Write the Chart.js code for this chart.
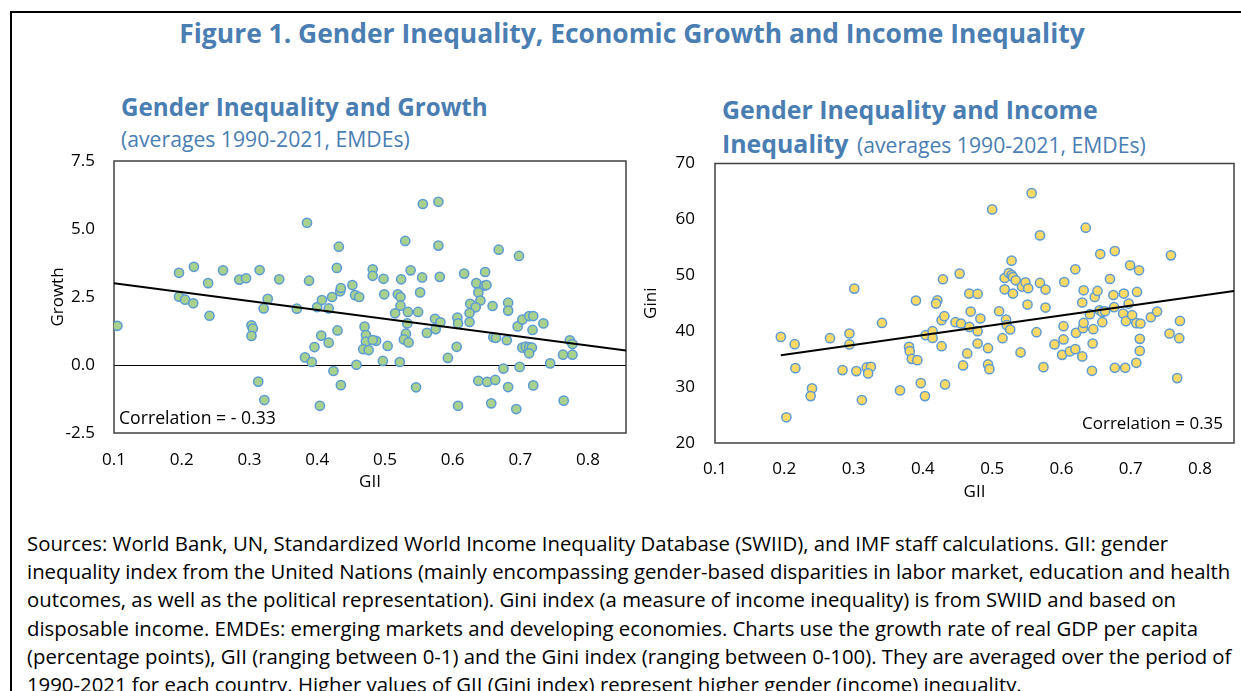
<!DOCTYPE html>
<html>
<head>
<meta charset="utf-8">
<title>Gender Inequality, Economic Growth and Income Inequality</title>
<script src="https://cdn.jsdelivr.net/npm/chart.js@4.4.0/dist/chart.umd.min.js"></script>
<style>
  body {
    margin: 0;
    width: 1241px;
    height: 691px;
    overflow: hidden;
    background: #fff;
    position: relative;
    font-family: "Open Sans", sans-serif;
  }
  .frame {
    position: absolute;
    left: 10px;
    top: 11px;
    width: 1300px;
    height: 720px;
    border-top: 2px solid #000;
    border-left: 2px solid #000;
    box-sizing: border-box;
  }
  .t { position: absolute; white-space: nowrap; line-height: 1; color: #4a7eb3; }
  .b { font-weight: 700; }
  .txt { position: absolute; white-space: nowrap; line-height: 1; color: #000; }
  .chart { position: absolute; }
</style>
</head>
<body>
<div class="frame"></div>

<div class="t b" id="title">Figure 1. Gender Inequality, Economic Growth and Income Inequality</div>

<div class="t b" id="leftHead">Gender Inequality and Growth</div>
<div class="t" id="leftSub">(averages 1990-2021, EMDEs)</div>

<div class="t b" id="rightHead1">Gender Inequality and Income</div>
<div class="t b" id="rightHead2">Inequality</div>
<div class="t" id="rightSub">(averages 1990-2021, EMDEs)</div>

<div class="chart" style="left:0px; top:150px; width:640px; height:350px;">
  <canvas id="growthChart"></canvas>
</div>
<div class="chart" style="left:640px; top:150px; width:601px; height:360px;">
  <canvas id="giniChart"></canvas>
</div>

<div class="txt" id="corrLeft">Correlation = - 0.33</div>
<div class="txt" id="corrRight">Correlation = 0.35</div>

<div class="txt note">Sources: World Bank, UN, Standardized World Income Inequality Database (SWIID), and IMF staff calculations. GII: gender</div>
<div class="txt note">inequality index from the United Nations (mainly encompassing gender-based disparities in labor market, education and health</div>
<div class="txt note">outcomes, as well as the political representation). Gini index (a measure of income inequality) is from SWIID and based on</div>
<div class="txt note">disposable income. EMDEs: emerging markets and developing economies. Charts use the growth rate of real GDP per capita</div>
<div class="txt note">(percentage points), GII (ranging between 0-1) and the Gini index (ranging between 0-100). They are averaged over the period of</div>
<div class="txt note">1990-2021 for each country. Higher values of GII (Gini index) represent higher gender (income) inequality.</div>

<script>
// left panel: GII vs growth of real GDP per capita
const growthGII = [
  0.105, 0.196, 0.218, 0.196, 0.205, 0.217, 0.239, 0.241, 0.261, 0.285,
  0.295, 0.315, 0.303, 0.305, 0.303, 0.313, 0.322, 0.327, 0.321, 0.344,
  0.370, 0.385, 0.388, 0.382, 0.392, 0.396, 0.406, 0.417, 0.400, 0.407,
  0.417, 0.422, 0.432, 0.429, 0.434, 0.435, 0.430, 0.424, 0.435, 0.404,
  0.452, 0.456, 0.462, 0.458, 0.470, 0.472, 0.472, 0.468, 0.476, 0.482,
  0.482, 0.498, 0.499, 0.487, 0.482, 0.504, 0.497, 0.522, 0.530, 0.538,
  0.524, 0.519, 0.523, 0.523, 0.515, 0.534, 0.533, 0.549, 0.531, 0.528,
  0.535, 0.546, 0.556, 0.579, 0.579, 0.555, 0.581, 0.552, 0.574, 0.562,
  0.575, 0.582, 0.607, 0.608, 0.606, 0.593, 0.608, 0.617, 0.635, 0.648,
  0.647, 0.650, 0.638, 0.641, 0.626, 0.634, 0.625, 0.625, 0.659, 0.660,
  0.664, 0.680, 0.668, 0.698, 0.682, 0.682, 0.696, 0.703, 0.713, 0.719,
  0.718, 0.734, 0.703, 0.708, 0.713, 0.717, 0.713, 0.675, 0.699, 0.638,
  0.651, 0.663, 0.682, 0.719, 0.657, 0.694, 0.744, 0.763, 0.777, 0.773,
  0.777, 0.764
];
const growthVals = [
  1.44, 3.39, 3.61, 2.51, 2.40, 2.27, 3.01, 1.81, 3.48, 3.14,
  3.19, 3.49, 1.46, 1.34, 1.07, -0.61, -1.29, 2.43, 2.08, 3.15,
  2.07, 5.23, 3.10, 0.28, 0.11, 0.66, 1.08, 0.82, 2.13, 2.39,
  2.08, 2.50, 4.35, 3.57, 2.71, 2.83, 1.27, -0.22, -0.74, -1.50,
  2.94, 2.57, 2.50, 0.01, 1.41, 1.10, 0.86, 0.58, 0.55, 3.52,
  3.28, 3.17, 2.60, 0.89, 0.92, 0.70, 0.15, 0.11, 4.56, 3.48,
  3.15, 2.60, 2.50, 2.18, 1.90, 1.95, 1.53, 1.95, 1.15, 0.94,
  0.83, -0.82, 5.92, 6.00, 4.39, 3.22, 3.24, 2.67, 1.70, 1.18,
  1.32, 1.57, 1.74, 1.53, 0.67, 0.26, -1.50, 3.36, 3.01, 3.42,
  2.92, 2.94, 2.67, 2.37, 2.25, 2.12, 1.91, 1.58, 2.17, 1.02,
  1.00, 0.91, 4.24, 4.01, 2.29, 2.00, 1.42, 1.67, 1.80, 1.80,
  1.29, 1.53, 0.64, 0.68, 0.66, 0.64, 0.43, -0.13, -0.07, -0.58,
  -0.62, -0.55, -0.81, -0.75, -1.41, -1.62, 0.06, 0.38, 0.38, 0.91,
  0.77, -1.31
];
const growthTrendGII = [0.1, 0.856];
const growthTrendVals = [3.01, 0.53];

// right panel: GII vs Gini index
const giniGII = [
  0.195, 0.215, 0.216, 0.203, 0.240, 0.238, 0.266, 0.294, 0.294, 0.301,
  0.284, 0.304, 0.319, 0.325, 0.321, 0.312, 0.341, 0.367, 0.380, 0.381,
  0.384, 0.392, 0.390, 0.397, 0.403, 0.404, 0.414, 0.414, 0.427, 0.421,
  0.419, 0.429, 0.453, 0.427, 0.431, 0.432, 0.447, 0.455, 0.458, 0.464,
  0.467, 0.469, 0.467, 0.479, 0.483, 0.479, 0.479, 0.494, 0.494, 0.496,
  0.500, 0.510, 0.515, 0.520, 0.521, 0.526, 0.518, 0.524, 0.528, 0.530,
  0.534, 0.528, 0.518, 0.530, 0.543, 0.548, 0.552, 0.551, 0.541, 0.557,
  0.569, 0.564, 0.569, 0.577, 0.577, 0.574, 0.590, 0.603, 0.603, 0.601,
  0.612, 0.620, 0.630, 0.604, 0.620, 0.635, 0.621, 0.631, 0.632, 0.646,
  0.630, 0.632, 0.645, 0.644, 0.648, 0.652, 0.641, 0.655, 0.659, 0.663,
  0.659, 0.656, 0.677, 0.670, 0.675, 0.676, 0.677, 0.692, 0.690, 0.699,
  0.712, 0.697, 0.689, 0.693, 0.702, 0.708, 0.714, 0.709, 0.708, 0.713,
  0.713, 0.729, 0.738, 0.758, 0.756, 0.771, 0.770, 0.767
];
const giniVals = [
  38.98, 37.68, 33.39, 24.59, 29.77, 28.39, 38.75, 39.59, 37.63, 47.62,
  33.04, 32.86, 33.52, 33.63, 32.45, 27.68, 41.48, 29.41, 37.20, 36.43,
  35.05, 34.82, 45.48, 30.71, 28.39, 39.29, 40.00, 38.80, 37.32, 45.54,
  44.95, 49.29, 50.30, 41.96, 42.68, 30.48, 41.61, 41.38, 33.87, 36.02,
  46.73, 43.51, 40.77, 46.67, 42.27, 40.00, 37.80, 36.96, 34.05, 33.21,
  61.79, 43.57, 38.75, 42.09, 41.07, 40.30, 49.52, 50.41, 50.05, 49.70,
  49.11, 52.62, 47.50, 46.73, 47.98, 48.75, 47.68, 44.77, 36.20, 64.70,
  57.14, 39.82, 48.63, 47.45, 44.23, 33.57, 37.63, 40.89, 38.52, 35.77,
  36.38, 36.79, 35.48, 48.80, 51.07, 58.52, 39.70, 40.54, 41.48, 40.36,
  45.13, 47.32, 37.80, 32.91, 46.13, 47.20, 43.04, 43.75, 43.45, 43.57,
  41.61, 53.80, 54.34, 49.34, 46.48, 44.29, 33.45, 33.45, 46.73, 51.79,
  50.89, 44.95, 43.16, 41.79, 42.86, 41.43, 41.38, 47.02, 34.34, 38.63,
  36.48, 42.50, 43.51, 53.57, 39.59, 41.84, 38.75, 31.61
];
const giniTrendGII = [0.195, 0.849];
const giniTrendVals = [35.7, 47.2];

const giiTicks = [0.1, 0.2, 0.3, 0.4, 0.5, 0.6, 0.7, 0.8];
const growthTicks = [-2.5, 0, 2.5, 5, 7.5];
const giniTicks = [20, 30, 40, 50, 60, 70];

const toPoints = (xs, ys) => xs.map((x, i) => ({x: x, y: ys[i]}));

Chart.defaults.font.family = "'Open Sans', sans-serif";
Chart.defaults.font.size = 17;
Chart.defaults.color = "#000";

// box round the plot area, like the Excel original
const plotFrame = {
  id: "plotFrame",
  beforeDatasetsDraw(chart) {
    const {ctx, chartArea: a} = chart;
    ctx.save();
    ctx.strokeStyle = "#404040";
    ctx.lineWidth = 1.5;
    ctx.strokeRect(a.left, a.top, a.right - a.left, a.bottom - a.top);
    ctx.restore();
  },
};

function makeChart(canvasId, opts) {
  return new Chart(document.getElementById(canvasId), {
    type: "scatter",
    data: {
      datasets: [
        {
          data: toPoints(opts.trendX, opts.trendY),
          showLine: true,
          borderColor: "#000",
          borderWidth: 2,
          pointRadius: 0,
          order: 0,
        },
        {
          data: toPoints(opts.x, opts.y),
          backgroundColor: opts.fill,
          borderColor: "#5b9bd5",
          borderWidth: 1.5,
          pointRadius: 4.6,
          order: 1,
        },
      ],
    },
    options: {
      responsive: true,
      maintainAspectRatio: false,
      animation: false,
      layout: {padding: opts.padding},
      plugins: {legend: {display: false}, tooltip: {enabled: false}},
      scales: {
        x: {
          type: "linear",
          min: 0.1,
          max: opts.xMax,
          afterBuildTicks: (axis) => { axis.ticks = giiTicks.map((v) => ({value: v})); },
          afterFit: (axis) => { axis.height = 67; },
          grid: {display: false, drawTicks: false},
          border: {display: false},
          ticks: {padding: opts.xTickPad, callback: (v) => v.toFixed(1)},
          title: {display: true, text: "GII", padding: {top: 0, bottom: opts.xTitlePad}},
        },
        y: {
          min: opts.yTicks[0],
          max: opts.yTicks[opts.yTicks.length - 1],
          afterBuildTicks: (axis) => { axis.ticks = opts.yTicks.map((v) => ({value: v})); },
          afterFit: (axis) => {
            axis.width = opts.yWidth;
            // keep the plot top where layout.padding puts it
            axis.paddingTop = 0;
            axis.paddingBottom = 0;
          },
          grid: {
            display: opts.zeroLine,
            drawTicks: false,
            lineWidth: 1,
            color: (c) => (c.tick && c.tick.value === 0 ? "#000" : "rgba(0,0,0,0)"),
          },
          border: {display: false},
          ticks: {padding: opts.yTickPad, callback: opts.yFormat},
          title: {display: true, text: opts.yTitle, padding: {top: opts.yTitlePad, bottom: 0}},
        },
      },
    },
    plugins: [plotFrame],
  });
}

makeChart("growthChart", {
  x: growthGII, y: growthVals, trendX: growthTrendGII, trendY: growthTrendVals,
  fill: "#a9d18e", xMax: 0.856, yTicks: growthTicks, yFormat: (v) => v.toFixed(1),
  yTitle: "Growth", zeroLine: true,
  padding: {top: 11, right: 14, bottom: 0, left: 0},
  yWidth: 114, yTickPad: 19, yTitlePad: 47.5, xTickPad: 17.3, xTitlePad: 7.3,
});

makeChart("giniChart", {
  x: giniGII, y: giniVals, trendX: giniTrendGII, trendY: giniTrendVals,
  fill: "#ffd966", xMax: 0.849, yTicks: giniTicks, yFormat: (v) => String(v),
  yTitle: "Gini", zeroLine: false,
  padding: {top: 13.5, right: 7, bottom: 0, left: 0},
  yWidth: 75, yTickPad: 20, yTitlePad: 1, xTickPad: 16.3, xTitlePad: 7.8,
});

// text placement: size each line to the width it has in the figure, then set it on its baseline
const BASE = 0.888; // Open Sans baseline offset with line-height 1

function fitSize(el, width) {
  el.style.fontSize = "20px";
  const w = el.getBoundingClientRect().width;
  return (20 * width) / w;
}

function put(el, size, left, baseline) {
  el.style.fontSize = size + "px";
  el.style.left = left + "px";
  el.style.top = baseline - BASE * size + "px";
}

const title = document.getElementById("title");
const titleSize = fitSize(title, 906);
put(title, titleSize, 0, 43.3);
title.style.left = 632 - title.getBoundingClientRect().width / 2 + "px";

const leftHead = document.getElementById("leftHead");
put(leftHead, fitSize(leftHead, 367), 121, 116.7);
const leftSub = document.getElementById("leftSub");
const subSize = fitSize(leftSub, 289);
put(leftSub, subSize, 121, 147);

const rightHead1 = document.getElementById("rightHead1");
const headSize = fitSize(rightHead1, 376);
put(rightHead1, headSize, 722, 119.3);
put(document.getElementById("rightHead2"), headSize, 722, 152.7);
put(document.getElementById("rightSub"), subSize, 857, 152.7);

const corrLeft = document.getElementById("corrLeft");
put(corrLeft, fitSize(corrLeft, 157), 119, 425);
const corrRight = document.getElementById("corrRight");
put(corrRight, fitSize(corrRight, 141), 0, 430);
corrRight.style.left = 1223 - corrRight.getBoundingClientRect().width + "px";

const notes = document.querySelectorAll(".note");
const noteSize = fitSize(notes[4], 1205);
notes.forEach((el, i) => put(el, noteSize, 27, 550.7 + i * 28.35));
</script>
</body>
</html>
